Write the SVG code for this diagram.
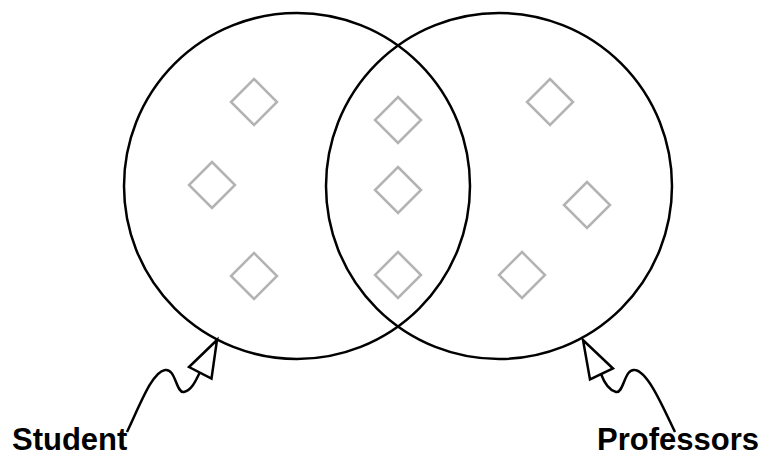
<svg xmlns="http://www.w3.org/2000/svg" width="764" height="455" viewBox="0 0 764 455">
<style>
.set{fill:none;stroke:#000;stroke-width:2.5}
.el{fill:none;stroke:#b3b3b3;stroke-width:2.5}
.conn{fill:none;stroke:#000;stroke-width:2.5}
.head{fill:#fff;stroke:#000;stroke-width:2.5;stroke-linejoin:miter}
.lbl{font-family:"Liberation Sans",Arial,sans-serif;font-weight:bold;font-size:31px;fill:#000}
</style>
<rect width="764" height="455" fill="#fff"/>
<defs>
<path id="dia" d="M0,-23 L23,0 L0,23 L-23,0 Z"/>
</defs>
<g id="student-set"><circle class="set" cx="297" cy="186" r="173"/></g>
<g id="professors-set"><circle class="set" cx="499" cy="186" r="173"/></g>
<g id="elements">
<g id="e1"><use href="#dia" class="el" x="254" y="102"/></g>
<g id="e2"><use href="#dia" class="el" x="212" y="185"/></g>
<g id="e3"><use href="#dia" class="el" x="254" y="276"/></g>
<g id="e4"><use href="#dia" class="el" x="398" y="120"/></g>
<g id="e5"><use href="#dia" class="el" x="398" y="190"/></g>
<g id="e6"><use href="#dia" class="el" x="398" y="275"/></g>
<g id="e7"><use href="#dia" class="el" x="550" y="102"/></g>
<g id="e8"><use href="#dia" class="el" x="587" y="205"/></g>
<g id="e9"><use href="#dia" class="el" x="522" y="275"/></g>
</g>
<g id="connectors">
<path class="conn" d="M127,432 C140,405 152,372 165,370 C176,368 176,394 184,392 C192,390 196,380 200,372"/>
<path class="head" d="M217,340 L189,367 L211.5,378.5 Z"/>
<path class="conn" d="M675,432 C662,405 648,372 635,370 C624,368 624,394 616,392 C608,390 604,382 601,374"/>
<path class="head" d="M583,340 L590,379.5 L613,368.5 Z"/>
</g>
<g id="student-label"><text class="lbl" x="12" y="450">Student</text></g>
<g id="professors-label"><text class="lbl" x="597" y="450">Professors</text></g>
</svg>
